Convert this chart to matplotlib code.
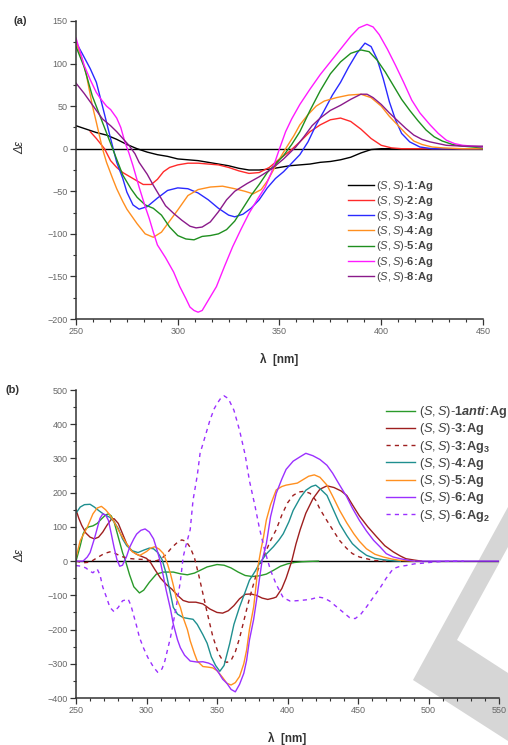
import numpy as np
import matplotlib
matplotlib.use("Agg")
import matplotlib.pyplot as plt
from matplotlib.patches import Polygon
from matplotlib.ticker import MultipleLocator, AutoMinorLocator

plt.rcParams["font.family"] = ["Liberation Sans", "DejaVu Sans"]
plt.rcParams["mathtext.fontset"] = "custom"
plt.rcParams["mathtext.rm"] = "Liberation Sans"
plt.rcParams["mathtext.it"] = "Liberation Sans:italic"
plt.rcParams["mathtext.bf"] = "Liberation Sans:bold"
plt.rcParams["mathtext.bfit"] = "Liberation Sans:bold:italic"

# ---- panel (a): CD spectra, monomeric Ag complexes ----
a1_x = [250, 255, 260, 265, 270, 275, 280, 285, 290, 295, 300, 305, 310, 315, 320, 325,
        330, 335, 340, 345, 350, 355, 360, 365, 370, 375, 380, 385, 390, 395, 400, 410, 420, 430, 440, 450]
a1_y = [27, 23, 19, 16, 11, 5, 0, -4, -7, -9, -12, -13, -14, -16, -18, -20,
        -23, -25, -25, -24, -22, -20, -19, -18, -16, -15, -13, -10, -5, -1, 0, 0, 0, 0, 0, 0]

a2_x = [257, 260, 264, 267, 270, 273, 278, 283, 287, 290, 293, 296, 300, 305, 310, 315, 320, 325,
        330, 335, 340, 345, 350, 355, 360, 365, 370, 375, 380, 385, 390, 395, 400, 405, 410, 420, 430, 440, 450]
a2_y = [20, 12, 0, -14, -22, -28, -35, -42, -42, -36, -27, -22, -19, -17, -17, -18, -19, -22,
        -26, -29, -28, -22, -12, -3, 8, 20, 28, 34, 36, 32, 23, 12, 4, 1, 0, 0, 0, 0, 0]

a3_x = [250, 253, 257, 260, 263, 267, 270, 273, 275, 278, 281, 285, 290, 295, 300, 305, 310, 315,
        320, 325, 328, 332, 336, 340, 344, 348, 352, 356, 360, 364, 368, 372, 376, 380, 384, 388,
        392, 395, 398, 401, 404, 407, 410, 414, 419, 425, 450]
a3_y = [125, 112, 94, 78, 50, 12, -16, -35, -51, -66, -71, -68, -58, -49, -46, -47, -52, -60,
        -70, -78, -80, -77, -70, -60, -46, -35, -27, -17, -7, 8, 28, 45, 63, 78, 96, 112,
        124, 120, 105, 82, 55, 34, 18, 8, 2, 0, 0]

a4_x = [250, 253, 255, 258, 260, 263, 265, 268, 270, 273, 275, 280, 284, 288, 292, 296, 300, 305,
        310, 316, 322, 328, 333, 337, 341, 344, 347, 350, 353, 357, 360, 364, 368, 372, 378, 384,
        390, 395, 400, 404, 408, 412, 416, 420, 425, 430, 440, 450]
a4_y = [125, 105, 88, 51, 31, 0, -16, -35, -47, -62, -71, -88, -100, -104, -98, -85, -72, -55,
        -48, -45, -44, -47, -50, -53, -48, -38, -25, -12, 0, 15, 28, 40, 50, 56, 60, 63,
        64, 60, 50, 38, 28, 18, 9, 5, 2, 1, 0, 0]

a5_x = [250, 254, 258, 263, 268, 273, 277, 280, 284, 288, 292, 296, 300, 304, 308, 312, 316, 320,
        324, 328, 332, 336, 340, 344, 348, 352, 356, 360, 365, 370, 375, 380, 385, 390, 394, 398,
        402, 406, 410, 414, 418, 422, 426, 430, 435, 440, 450]
a5_y = [120, 96, 62, 31, 0, -31, -47, -57, -66, -70, -78, -92, -102, -106, -107, -103, -102, -100,
        -95, -85, -70, -55, -42, -28, -18, -8, 5, 20, 45, 68, 88, 102, 112, 116, 114, 104,
        90, 74, 58, 45, 33, 22, 14, 9, 5, 3, 1]

a6_x = [250, 252, 254, 257, 260, 262, 265, 267, 270, 272, 274, 276, 278, 281, 284, 286, 288, 290,
        294, 298, 301, 304, 306, 308, 310, 312, 315, 319, 323, 327, 331, 335, 339, 343, 346, 350,
        353, 356, 360, 365, 370, 375, 380, 385, 389, 393, 396, 399, 403, 407, 411, 415, 419, 424,
        428, 432, 436, 440, 445, 450]
a6_y = [130, 114, 98, 81, 66, 59, 50, 46, 36, 25, 8, -5, -20, -45, -68, -82, -98, -113,
        -128, -145, -162, -176, -186, -190, -192, -190, -178, -162, -138, -115, -95, -76, -60, -45, -28, 0,
        20, 35, 52, 70, 87, 102, 117, 132, 142, 146, 143, 134, 117, 98, 78, 57, 42, 28,
        18, 10, 6, 4, 3, 2]

a8_x = [250, 254, 257, 260, 263, 267, 270, 273, 276, 279, 281, 285, 288, 291, 294, 298, 302, 306,
        309, 312, 316, 320, 324, 328, 334, 340, 344, 348, 352, 355, 358, 362, 366, 370, 375, 380,
        385, 390, 393, 396, 400, 404, 408, 412, 416, 420, 424, 428, 432, 440, 450]
a8_y = [77, 65, 55, 45, 35, 27, 20, 12, 4, -6, -16, -30, -43, -55, -67, -76, -84, -91,
        -93, -92, -86, -74, -60, -50, -41, -33, -27, -20, -12, -5, 2, 14, 27, 36, 45, 51,
        58, 64, 64, 60, 52, 42, 33, 24, 16, 11, 8, 6, 4, 3, 3]

series_a = [
    (a1_x, a1_y, "black", r"$(S,S)$-$\mathbf{1\!:\!Ag}$"),
    (a2_x, a2_y, "#ff2a2a", r"$(S,S)$-$\mathbf{2\!:\!Ag}$"),
    (a3_x, a3_y, "#2a2aff", r"$(S,S)$-$\mathbf{3\!:\!Ag}$"),
    (a4_x, a4_y, "#ff8f1f", r"$(S,S)$-$\mathbf{4\!:\!Ag}$"),
    (a5_x, a5_y, "#1f8f1f", r"$(S,S)$-$\mathbf{5\!:\!Ag}$"),
    (a6_x, a6_y, "#ff1aff", r"$(S,S)$-$\mathbf{6\!:\!Ag}$"),
    (a8_x, a8_y, "#8a1a8a", r"$(S,S)$-$\mathbf{8\!:\!Ag}$"),
]

# ---- panel (b): CD spectra incl. polynuclear species ----
b1_x = [250, 253, 255, 257, 259, 262, 265, 268, 271, 273, 275, 277, 279, 281, 283, 285, 288, 291,
        295, 298, 302, 307, 312, 319, 324, 329, 334, 338, 343, 350, 355, 360, 365, 370, 375, 380,
        385, 390, 395, 400, 405, 410, 415, 422]
b1_y = [0, 45, 79, 95, 100, 103, 110, 123, 135, 138, 132, 115, 85, 55, 25, 2, -40, -75,
        -93, -85, -62, -38, -32, -32, -37, -40, -35, -27, -17, -10, -12, -20, -32, -42, -45, -43,
        -38, -27, -15, -8, -4, -2, -1, 0]

b3_x = [250, 252, 254, 257, 260, 263, 266, 269, 272, 275, 277, 280, 283, 286, 289, 293, 297, 300,
        303, 306, 310, 314, 318, 322, 326, 330, 335, 340, 345, 350, 354, 358, 362, 366, 370, 374,
        378, 382, 386, 390, 392, 396, 399, 403, 406, 409, 413, 418, 423, 428, 433, 438, 442, 446,
        451, 457, 463, 469, 475, 480, 484, 490, 495]
b3_y = [150, 125, 105, 82, 70, 65, 70, 85, 105, 122, 124, 110, 80, 50, 32, 20, 13, 8,
        -5, -25, -50, -68, -82, -100, -115, -120, -120, -125, -140, -150, -152, -145, -130, -110, -97, -96,
        -100, -108, -112, -108, -105, -80, -50, 0, 50, 92, 140, 182, 210, 220, 215, 205, 192, 165,
        132, 100, 72, 45, 27, 15, 7, 3, 0]

b3g_x = [250, 255, 260, 265, 270, 274, 278, 282, 287, 292, 297, 302, 306, 310, 314, 318, 322, 325,
         328, 331, 334, 337, 340, 343, 347, 351, 354, 357, 360, 363, 366, 369, 372, 375, 378, 381,
         384, 388, 392, 396, 400, 404, 408, 412, 416, 420, 423, 428, 432, 437, 442, 446, 451, 456,
         461, 470]
b3g_y = [0, -5, -3, 10, 22, 27, 22, 14, 8, 6, 5, 2, 0, 5, 20, 40, 55, 62,
         58, 40, 10, -40, -95, -150, -220, -270, -290, -296, -290, -265, -225, -175, -125, -80, -37, -5,
         22, 60, 92, 135, 170, 192, 202, 204, 198, 178, 152, 118, 92, 60, 37, 22, 12, 7,
         2, 0]

b4_x = [250, 253, 256, 260, 263, 266, 270, 274, 277, 280, 283, 286, 290, 294, 298, 302, 305, 308,
        311, 314, 317, 319, 322, 326, 330, 333, 336, 340, 343, 346, 349, 352, 355, 359, 362, 366,
        370, 373, 377, 380, 385, 390, 394, 397, 401, 404, 409, 413, 417, 420, 423, 428, 432, 437,
        442, 446, 451, 456, 462, 468, 475, 480]
b4_y = [140, 158, 165, 166, 158, 148, 136, 128, 115, 95, 65, 45, 30, 25, 32, 38, 36, 25,
        5, -37, -95, -135, -155, -165, -168, -170, -185, -215, -240, -280, -305, -322, -305, -241, -185, -134,
        -90, -56, -30, -8, 21, 42, 62, 80, 115, 148, 185, 207, 218, 222, 212, 192, 155, 109,
        75, 51, 32, 17, 8, 4, 1, 0]

b5_x = [250, 253, 258, 262, 265, 268, 271, 274, 277, 281, 286, 290, 295, 300, 303, 306, 309, 312,
        315, 317, 319, 321, 324, 326, 329, 331, 334, 336, 340, 344, 347, 350, 354, 357, 360, 363,
        366, 369, 371, 373, 376, 378, 379, 381, 383, 385, 388, 392, 396, 399, 403, 407, 411, 415,
        419, 423, 428, 432, 437, 442, 447, 451, 456, 462, 468, 474, 480, 490]
b5_y = [10, 60, 99, 138, 155, 160, 150, 135, 115, 84, 50, 27, 16, 28, 38, 42, 35, 22,
        -10, -37, -70, -106, -135, -165, -200, -233, -270, -292, -308, -310, -312, -320, -340, -357, -362, -355,
        -337, -300, -260, -200, -134, -60, -17, 30, 71, 120, 165, 208, 218, 222, 225, 228, 238, 248,
        252, 245, 222, 190, 148, 112, 80, 58, 36, 20, 12, 6, 2, 0]

b6_x = [250, 255, 258, 260, 263, 265, 267, 269, 271, 273, 275, 277, 279, 281, 283, 286, 288, 291,
        293, 296, 299, 302, 305, 308, 310, 312, 314, 317, 319, 322, 324, 327, 331, 336, 340, 344,
        347, 351, 354, 357, 360, 363, 366, 369, 371, 373, 376, 378, 380, 382, 385, 388, 392, 396,
        399, 404, 409, 413, 418, 423, 428, 432, 437, 442, 446, 451, 456, 461, 466, 470, 475, 480,
        485, 490, 550]
b6_y = [0, 0, 12, 25, 65, 95, 125, 138, 135, 119, 80, 40, 5, -15, -12, 15, 40, 65,
        79, 90, 94, 85, 65, 25, -5, -45, -86, -140, -184, -230, -253, -275, -292, -295, -294, -298,
        -304, -325, -345, -357, -375, -382, -360, -328, -290, -231, -170, -115, -55, 2, 51, 130, 198, 240,
        268, 292, 305, 315, 308, 297, 280, 257, 222, 188, 155, 119, 88, 61, 40, 22, 12, 7,
        3, 0, 0]

b6g_x = [250, 254, 257, 260, 262, 265, 267, 269, 272, 274, 277, 280, 283, 287, 289, 291, 293, 295,
         298, 301, 305, 308, 311, 313, 317, 319, 321, 324, 326, 328, 331, 333, 336, 338, 342, 345,
         348, 350, 353, 355, 358, 362, 366, 370, 373, 377, 380, 384, 388, 392, 397, 402, 409, 416,
         422, 426, 430, 437, 444, 448, 452, 456, 461, 466, 470, 475, 480, 484, 490, 496, 503, 510,
         520, 525]
b6g_y = [-13, -15, -20, -30, -34, -23, -40, -76, -110, -135, -148, -135, -116, -111, -130, -160, -190, -223,
         -255, -282, -310, -325, -315, -292, -223, -180, -135, -60, 12, 46, 92, 178, 250, 315, 370, 412,
         445, 460, 478, 483, 475, 441, 382, 310, 235, 160, 98, 29, -27, -68, -107, -117, -115, -112,
         -105, -108, -117, -141, -165, -168, -155, -134, -105, -76, -50, -22, -15, -13, -8, -6, -3, -1,
         0, 0]

violet = "#9b30ff"
series_b = [
    (b1_x, b1_y, "#2a9a2a", "-", r"$(S,S)$-$\mathbf{1}\mathbfit{anti}\mathbf{\!:\!Ag}$"),
    (b3_x, b3_y, "#9e1f1f", "-", r"$(S,S)$-$\mathbf{3\!:\!Ag}$"),
    (b3g_x, b3g_y, "#9e1f1f", (0, (3, 3)), r"$(S,S)$-$\mathbf{3\!:\!Ag_3}$"),
    (b4_x, b4_y, "#1f8f8f", "-", r"$(S,S)$-$\mathbf{4\!:\!Ag}$"),
    (b5_x, b5_y, "#ff9020", "-", r"$(S,S)$-$\mathbf{5\!:\!Ag}$"),
    (b6_x, b6_y, violet, "-", r"$(S,S)$-$\mathbf{6\!:\!Ag}$"),
    (b6g_x, b6g_y, violet, (0, (3, 3)), r"$(S,S)$-$\mathbf{6\!:\!Ag_2}$"),
]

W, H = 508, 745
fig = plt.figure(figsize=(W / 100, H / 100), dpi=100)


def px_axes(left, top, right, bottom):
    return fig.add_axes([left / W, 1 - bottom / H, (right - left) / W, (bottom - top) / H])


def style_axes(ax):
    ax.set_facecolor("none")
    for side in ("top", "right"):
        ax.spines[side].set_visible(False)
    for side in ("left", "bottom"):
        ax.spines[side].set_color("#333333")
        ax.spines[side].set_linewidth(1.1)
    ax.tick_params(which="major", direction="out", length=4, width=0.9, color="#333333",
                   labelsize=6.5, labelcolor="#666666", pad=2)
    ax.tick_params(which="minor", direction="out", length=2.5, width=0.8, color="#333333")
    ax.axhline(0, color="black", lw=1.0, zorder=1)


# panel (a)
ax1 = px_axes(76, 21, 483, 319)
style_axes(ax1)
for x, y, c, lab in series_a:
    ax1.plot(x, y, color=c, lw=1.0, label=lab, zorder=2)
ax1.set_xlim(250, 450)
ax1.set_ylim(-200, 150)
ax1.xaxis.set_major_locator(MultipleLocator(50))
ax1.xaxis.set_minor_locator(AutoMinorLocator(6))
ax1.yaxis.set_major_locator(MultipleLocator(50))
ax1.yaxis.set_minor_locator(MultipleLocator(25))
ax1.legend(loc="upper left", bbox_to_anchor=(348 / W, 1 - 179 / H), bbox_transform=fig.transFigure,
           frameon=False, fontsize=8, handlelength=2.3, handletextpad=0.25, labelspacing=0.1,
           borderpad=0, borderaxespad=0, labelcolor="#444444")

# panel (b)
ax2 = px_axes(76, 390, 499, 698)
style_axes(ax2)
for x, y, c, ls, lab in series_b:
    ax2.plot(x, y, color=c, lw=1.0, ls=ls, label=lab, zorder=2)
ax2.set_xlim(250, 550)
ax2.set_ylim(-400, 500)
ax2.xaxis.set_major_locator(MultipleLocator(50))
ax2.xaxis.set_minor_locator(MultipleLocator(10))
ax2.yaxis.set_major_locator(MultipleLocator(100))
ax2.yaxis.set_minor_locator(MultipleLocator(50))
ax2.legend(loc="upper left", bbox_to_anchor=(386 / W, 1 - 404 / H), bbox_transform=fig.transFigure,
           frameon=False, fontsize=9.2, handlelength=2.3, handletextpad=0.3, labelspacing=0.1,
           borderpad=0, borderaxespad=0, labelcolor="#444444")

# axis titles and panel tags
for ycen in (148, 555):
    fig.text(20 / W, 1 - ycen / H, "Δε", rotation=90, style="italic", fontsize=8.5,
             color="#333333", ha="center", va="center")
fig.text(279 / W, 1 - 359 / H, "λ  [nm]", fontsize=8.5, fontweight="bold", color="#333333",
         ha="center", va="center")
fig.text(287 / W, 1 - 738 / H, "λ  [nm]", fontsize=8.5, fontweight="bold", color="#333333",
         ha="center", va="center")
fig.text(13 / W, 1 - 21 / H, "(a)", fontsize=8, fontweight="bold", color="#333333", va="center")
fig.text(5 / W, 1 - 390 / H, "(b)", fontsize=8, fontweight="bold", color="#333333", va="center")

# light grey chevron behind the lower panel
chevron = [(508, 507), (413, 680), (508, 741), (508, 673), (457, 640), (508, 547)]
fig.patches.append(Polygon([(px / W, 1 - py / H) for px, py in chevron], closed=True,
                           transform=fig.transFigure, facecolor="#d6d6d6", edgecolor="none",
                           zorder=-1))

fig.savefig("out.png", dpi=100)
